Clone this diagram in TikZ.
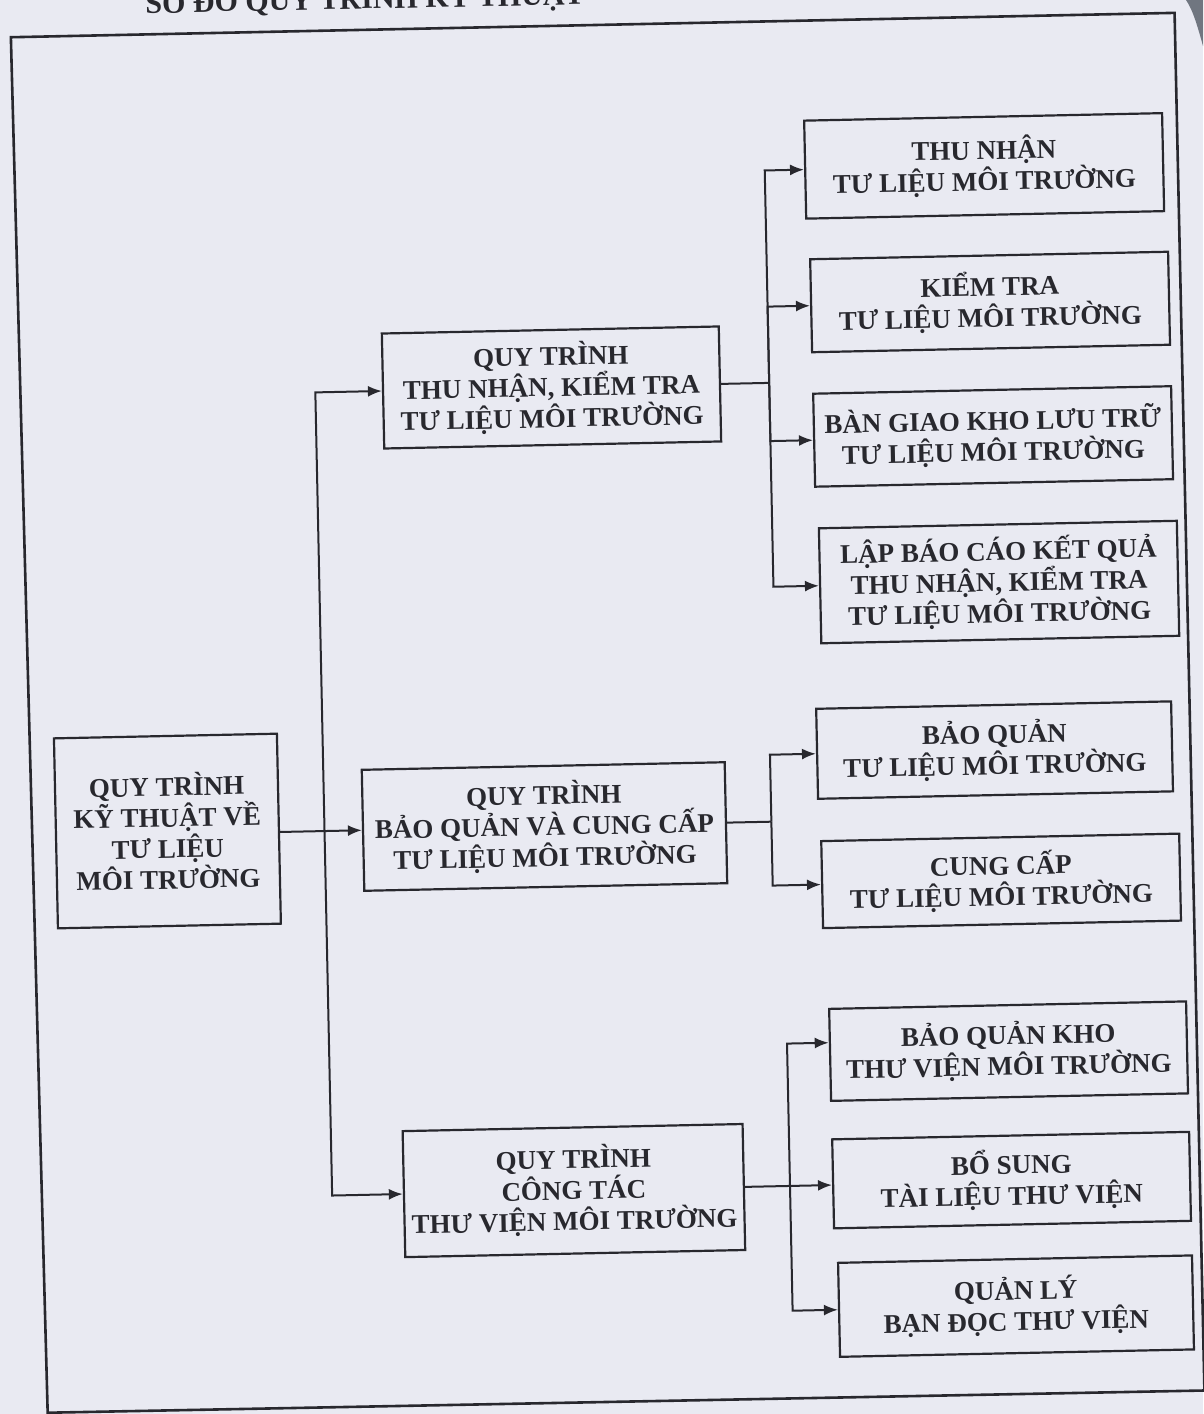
\documentclass[tikz,border=0pt]{standalone}
\usepackage{fontspec}
\setmainfont{Liberation Serif}
\usetikzlibrary{arrows.meta}
\definecolor{paper}{RGB}{233,234,242}
\definecolor{ink}{RGB}{40,40,46}
\definecolor{scanedge}{RGB}{112,118,128}
\tikzset{
  box/.style 2 args={draw=ink, line width=2.2pt, align=center, text=ink,
    font=\fontsize{27}{31}\selectfont\bfseries, inner sep=0pt,
    minimum width=#1, minimum height=#2},
  ln/.style={draw=ink, line width=2pt},
  arr/.style={ln, -{Latex[length=14pt,width=11pt]}},
  frame/.style={draw=ink, line width=2.6pt, line join=miter},
  ttl/.style={text=ink, font=\fontsize{30}{33}\selectfont\bfseries, inner sep=0pt},
}
\begin{document}
\begin{tikzpicture}[x=1pt,y=-1pt]
\fill[paper] (0,0) rectangle (1203,1414);
\useasboundingbox (0,0) rectangle (1203,1414);
\fill[scanedge] (1186,0) -- (1203,0) -- (1203,46) .. controls (1198,28) and (1193,10) .. (1186,0);
\begin{scope}[rotate around={1.2:(601,707)}, transform shape]
  % title (cut by the page top, as in the scan)
  \node[ttl, anchor=base west] (title) at (160,4) {SƠ ĐỒ QUY TRÌNH KỸ THUẬT};
  % outer frame
  \draw[frame] (25,25) -- (1189,25) -- (1190,1403) -- (33,1401) -- cycle;
  % nodes
  \node[box={223pt}{190pt}] (root) at (164.9,821.9) {QUY TRÌNH\\KỸ THUẬT VỀ\\TƯ LIỆU\\MÔI TRƯỜNG};
  \node[box={337pt}{115pt}] (p1) at (558.2,386.5) {QUY TRÌNH\\THU NHẬN, KIỂM TRA\\TƯ LIỆU MÔI TRƯỜNG};
  \node[box={363pt}{121pt}] (p2) at (542,825.3) {QUY TRÌNH\\BẢO QUẢN VÀ CUNG CẤP\\TƯ LIỆU MÔI TRƯỜNG};
  \node[box={340pt}{126pt}] (p3) at (563.8,1189.9) {QUY TRÌNH\\CÔNG TÁC\\THƯ VIỆN MÔI TRƯỜNG};
  \node[box={358pt}{98pt}] (a1) at (995.4,174.0) {THU NHẬN\\TƯ LIỆU MÔI TRƯỜNG};
  \node[box={358pt}{93pt}] (a2) at (998.5,310.2) {KIỂM TRA\\TƯ LIỆU MÔI TRƯỜNG};
  \node[box={358pt}{93pt}] (a3) at (998.7,444.7) {BÀN GIAO KHO LƯU TRỮ\\TƯ LIỆU MÔI TRƯỜNG};
  \node[box={358pt}{115pt}] (a4) at (1001.6,590.4) {LẬP BÁO CÁO KẾT QUẢ\\THU NHẬN, KIỂM TRA\\TƯ LIỆU MÔI TRƯỜNG};
  \node[box={355pt}{90pt}] (b1) at (993.6,758.3) {BẢO QUẢN\\TƯ LIỆU MÔI TRƯỜNG};
  \node[box={358pt}{87pt}] (b2) at (997.4,889.2) {CUNG CẤP\\TƯ LIỆU MÔI TRƯỜNG};
  \node[box={357pt}{92pt}] (c1) at (1001.3,1059.6) {BẢO QUẢN KHO\\THƯ VIỆN MÔI TRƯỜNG};
  \node[box={357pt}{89pt}] (c2) at (1001.6,1188.6) {BỔ SUNG\\TÀI LIỆU THƯ VIỆN};
  \node[box={354pt}{94pt}] (c3) at (1003.4,1314.7) {QUẢN LÝ\\BẠN ĐỌC THƯ VIỆN};
  % trunk positions
  \coordinate (tr) at (322,0);
  \coordinate (t1) at (776,0);
  \coordinate (t2) at (769,0);
  \coordinate (t3) at (780,0);
  \coordinate (c1in) at (780,1047.5);
  % root connectors
  \draw[arr] (root.east |- p2.west) -- (p2.west);
  \draw[arr] (tr |- p2.west) |- (p1.west);
  \draw[arr] (tr |- p2.west) |- (p3.west);
  % branch 1
  \draw[ln] (p1.east) -- (t1 |- p1.east);
  \draw[arr] (t1 |- p1.east) |- (a1.west);
  \draw[arr] (t1 |- p1.east) |- (a2.west);
  \draw[arr] (t1 |- p1.east) |- (a3.west);
  \draw[arr] (t1 |- p1.east) |- (a4.west);
  % branch 2
  \draw[ln] (p2.east) -- (t2 |- p2.east);
  \draw[arr] (t2 |- p2.east) |- (b1.west);
  \draw[arr] (t2 |- p2.east) |- (b2.west);
  % branch 3
  \draw[arr] (p3.east) -- (c2.west |- p3.east);
  \draw[arr] (t3 |- p3.east) |- (c1.west |- c1in);
  \draw[arr] (t3 |- p3.east) |- (c3.west);
\end{scope}
\end{tikzpicture}
\end{document}
